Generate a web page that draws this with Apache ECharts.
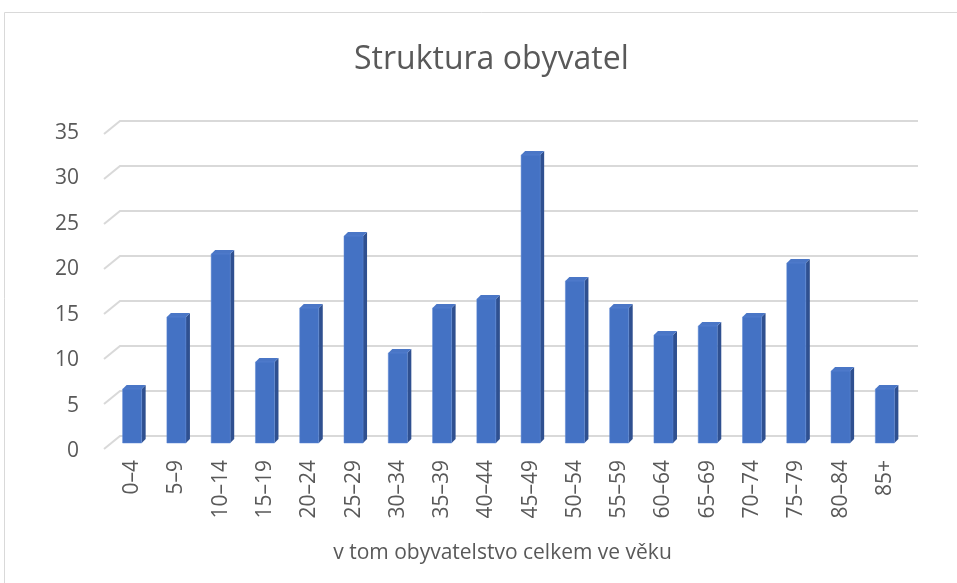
<!DOCTYPE html>
<html>
<head>
<meta charset="utf-8">
<script src="https://cdn.jsdelivr.net/npm/echarts@6/dist/echarts.min.js"></script>
<style>
  html, body { margin: 0; padding: 0; background: #fff; }
  #main { width: 957px; height: 583px; }
</style>
</head>
<body>
<div id="main"></div>
<script>
// age groups and counts
const categories = ['0–4', '5–9', '10–14', '15–19', '20–24', '25–29', '30–34', '35–39', '40–44',
    '45–49', '50–54', '55–59', '60–64', '65–69', '70–74', '75–79', '80–84', '85+'];
const values = [6, 14, 21, 9, 15, 23, 10, 15, 16, 32, 18, 15, 12, 13, 14, 20, 8, 6];
const yTicks = [0, 5, 10, 15, 20, 25, 30, 35];

const FONT = '"Open Sans", sans-serif';
const TXT = '#595959';

const chart = echarts.init(document.getElementById('main'));

// 3D look: floor depth offsets (front plane / back wall) relative to the bar plane
const front = { dx: -6, dy: 6 };
const back = { dx: 10, dy: -7 };
const depth = 4;

const renderGrid = (params, api) => {
    const cs = params.coordSys;
    const y = api.coord([0, api.value(1)])[1];
    return {
        type: 'polyline',
        shape: {
            points: [
                [cs.x + front.dx, y + front.dy],
                [cs.x + back.dx, y + back.dy],
                [cs.x + cs.width + back.dx + 1, y + back.dy]
            ]
        },
        style: { stroke: '#d9d9d9', lineWidth: 2, fill: null },
        silent: true
    };
};

const renderBar = (params, api) => {
    const i = api.value(0);
    const base = api.coord([i, 0]);
    const top = api.coord([i, api.value(1)]);
    const bw = api.size([1, 0])[0] * 0.43;
    const x0 = base[0] - bw / 2;
    const x1 = x0 + bw;
    const y0 = base[1];
    const y1 = top[1];
    return {
        type: 'group',
        children: [
            {
                type: 'polygon',
                shape: { points: [[x1, y1], [x1 + depth, y1 - depth], [x1 + depth, y0 - depth], [x1, y0]] },
                style: { fill: '#2f5090' }
            },
            {
                type: 'polygon',
                shape: { points: [[x0, y1], [x0 + depth, y1 - depth], [x1 + depth, y1 - depth], [x1, y1]] },
                style: { fill: '#4a76c6' }
            },
            {
                type: 'rect',
                shape: { x: x0, y: y1, width: bw, height: y0 - y1 },
                style: { fill: '#4472c4', stroke: '#5b86d4', lineWidth: 0.5 }
            }
        ]
    };
};

const option = {
    backgroundColor: '#fff',
    title: {
        text: 'Struktura obyvatel',
        left: 349,
        top: 39,
        textStyle: { fontFamily: FONT, fontSize: 32, fontWeight: 'normal', color: TXT }
    },
    graphic: [{
        type: 'rect',
        shape: { x: 4.5, y: 12.5, width: 980, height: 600 },
        style: { fill: null, stroke: '#d9d9d9', lineWidth: 1 },
        silent: true
    }],
    grid: [
        { left: 110, right: 50, top: 128, bottom: 140 },
        { left: 104, right: 56, top: 133, bottom: 132 }
    ],
    xAxis: [
        {
            gridIndex: 0,
            type: 'category',
            data: categories,
            axisLine: { show: false },
            axisTick: { show: false },
            axisLabel: { rotate: 90, margin: 17, fontFamily: FONT, fontSize: 21, color: TXT },
            name: 'v tom obyvatelstvo celkem ve věku',
            nameLocation: 'middle',
            nameGap: 100,
            nameTextStyle: { fontFamily: FONT, fontSize: 21, color: TXT, padding: [0, 12, 0, 0] }
        },
        { gridIndex: 1, type: 'category', data: categories, show: false }
    ],
    yAxis: [
        {
            gridIndex: 0, type: 'value', min: 0, max: 35, interval: 5,
            axisLabel: { show: false }, splitLine: { show: false },
            axisLine: { show: false }, axisTick: { show: false }
        },
        {
            gridIndex: 1, type: 'value', min: 0, max: 35, interval: 5,
            axisLabel: { margin: 25, fontFamily: FONT, fontSize: 21, color: TXT },
            splitLine: { show: false }, axisLine: { show: false }, axisTick: { show: false }
        }
    ],
    series: [
        {
            type: 'custom',
            xAxisIndex: 0, yAxisIndex: 0,
            renderItem: renderGrid,
            data: yTicks.map(v => [0, v]),
            silent: true,
            z: 1
        },
        {
            type: 'custom',
            xAxisIndex: 0, yAxisIndex: 0,
            renderItem: renderBar,
            data: values.map((v, i) => [i, v]),
            z: 2
        }
    ]
};
chart.setOption(option);
</script>
</body>
</html>
